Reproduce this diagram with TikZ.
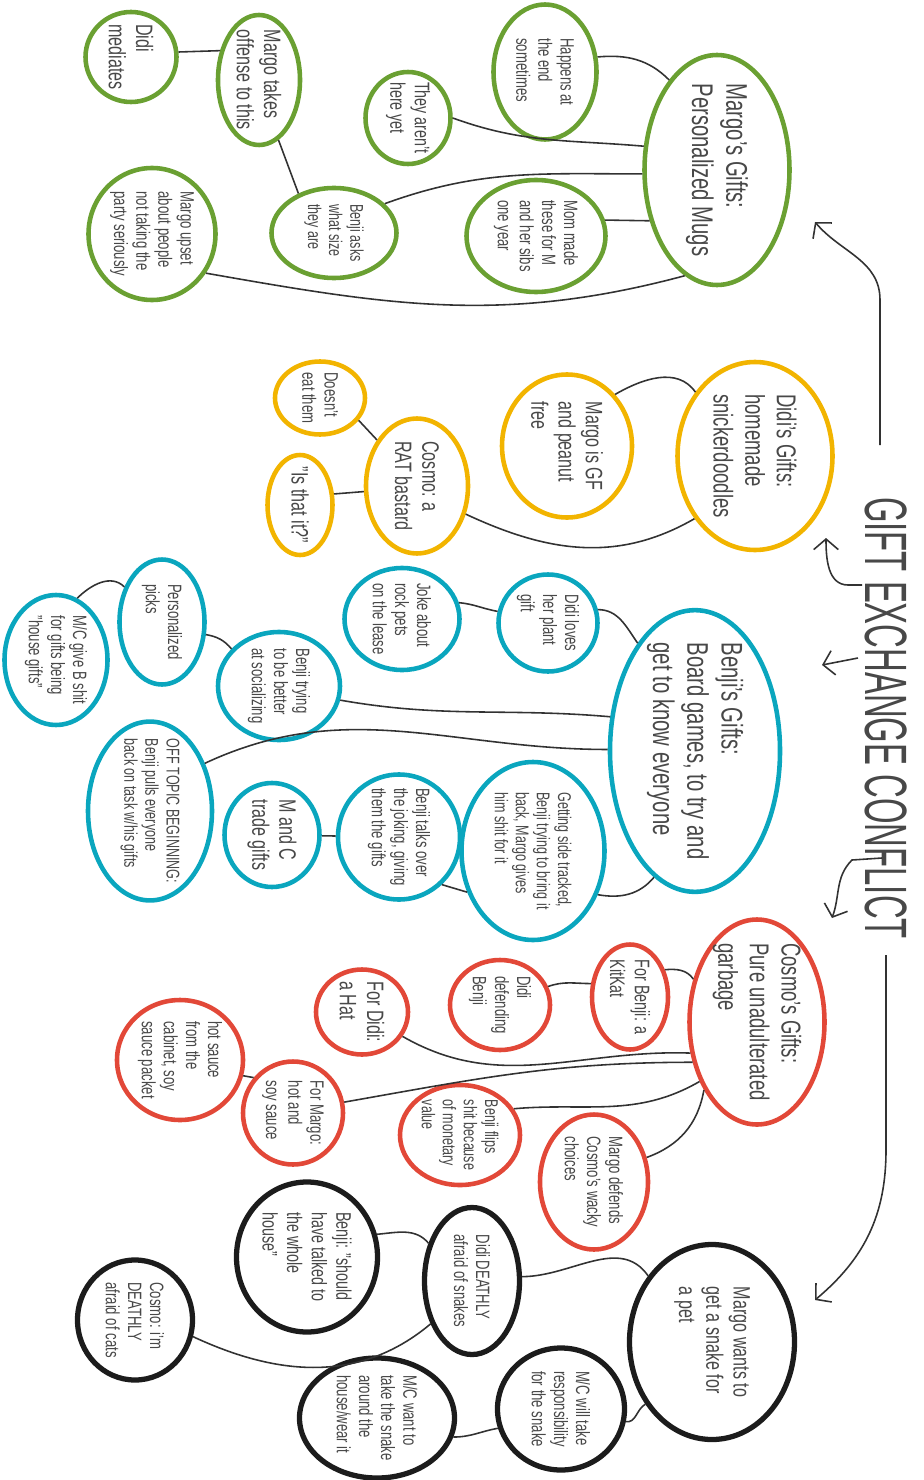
\documentclass[tikz,border=0pt]{standalone}
\usepackage{fontspec}
\setmainfont{Liberation Sans}[FakeStretch=0.68]
\newfontfamily\ttlfont{Liberation Sans}[FakeStretch=0.55]
\usetikzlibrary{shapes.geometric,arrows.meta}
\definecolor{cGreen}{RGB}{106,160,50}
\definecolor{cYellow}{RGB}{242,180,0}
\definecolor{cBlue}{RGB}{10,166,190}
\definecolor{cRed}{RGB}{226,72,56}
\definecolor{cBlack}{RGB}{28,28,28}
\definecolor{cInk}{RGB}{72,72,72}
\definecolor{cLine}{RGB}{50,50,50}
\tikzset{
  bub/.style={ellipse,draw,line width=2.6pt,inner xsep=-5pt,inner ysep=-2pt,align=left,text=cInk},
  sz/.style 2 args={minimum width=#1*0.02cm,minimum height=#2*0.02cm},
  gv/.style={draw=cGreen},
  yv/.style={draw=cYellow},
  bv/.style={draw=cBlue},
  rv/.style={draw=cRed},
  kv/.style={draw=cBlack,line width=3pt},
  fbig/.style={font=\fontsize{17}{19.5}\selectfont},
  fbg2/.style={font=\fontsize{15.5}{18}\selectfont},
  fmid/.style={font=\fontsize{13.5}{15.5}\selectfont},
  fmd2/.style={font=\fontsize{12}{14}\selectfont},
  fsml/.style={font=\fontsize{11}{12.6}\selectfont},
  ftny/.style={font=\fontsize{10.5}{12}\selectfont},
  lnk/.style={draw=cLine,line width=0.9pt},
  arr/.style={draw=cLine,line width=0.9pt,-{Straight Barb[length=6pt,width=14pt]}},
  ttl/.style={text=cInk,font=\ttlfont\fontsize{34}{40}\selectfont}
}

\begin{document}
\begin{tikzpicture}[rotate=-90,transform shape,x=0.02cm,y=0.02cm]
\useasboundingbox (0,0) rectangle (1480,923);
\node[ttl] (ttl) at (718,886) {GIFT EXCHANGE CONFLICT};

\node[bub,gv,fbig,sz={230}{145}] (g0) at (170,717) {Margo's Gifts:\\Personalized Mugs};
\node[bub,gv,fsml,sz={135}{103}] (g1) at (72,545) {Happens at\\the end\\sometimes};
\node[bub,gv,fmd2,sz={92}{85}] (g2) at (118,408) {They aren't\\here yet};
\node[bub,gv,fsml,sz={112}{139}] (g3) at (236,536) {Mom made\\these for M\\and her sibs\\one year};
\node[bub,gv,fmid,sz={90}{91}] (g4) at (57,131) {Didi\\mediates};
\node[bub,gv,fmid,sz={130}{82}] (g5) at (80,259) {Margo takes\\offense to this};
\node[bub,gv,ftny,sz={90}{125}] (g6) at (233,334) {Benji asks\\what size\\they are};
\node[bub,gv,fsml,sz={132}{127}] (g7) at (234,152) {Margo upset\\about people\\not taking the\\party seriously};

\node[bub,yv,fbg2,sz={188}{155}] (y0) at (456,755) {Didi's Gifts:\\homemade\\snickerdoodles};
\node[bub,yv,fmid,sz={143}{130}] (y1) at (446,567) {Margo is GF\\and peanut\\free};
\node[bub,yv,fmid,sz={135}{102}] (y2) at (486,417) {Cosmo: a\\RAT bastard};
\node[bub,yv,fsml,sz={73}{90}] (y3) at (398,320) {Doesn't\\eat them};
\node[bub,yv,fmid,sz={100}{65}] (y4) at (505,300) {"Is that it?"};

\node[bub,bv,fbig,sz={267}{170}] (b0) at (751,695) {Benji's Gifts:\\Board games, to try and\\get to know everyone};
\node[bub,bv,fsml,sz={97}{99}] (b1) at (623,548) {Didi loves\\her plant\\gift};
\node[bub,bv,fsml,sz={102}{115}] (b2) at (619,402) {Joke about\\rock pets\\on the lease};
\node[bub,bv,fsml,sz={125}{85}] (b3) at (622,162) {Personalized\\picks};
\node[bub,bv,fsml,sz={130}{103}] (b4) at (660,56) {M/C give B shit\\for gifts being\\"house gifts"};
\node[bub,bv,fsml,sz={108}{122}] (b5) at (686,279) {Benji trying\\to be better\\at socializing};
\node[bub,bv,ftny,sz={178}{124}] (b6) at (811,150) {OFF TOPIC BEGINNING:\\Benji pulls everyone\\back on task w/his gifts};
\node[bub,bv,fmid,sz={104}{95}] (b7) at (835,272) {M and C\\trade gifts};
\node[bub,bv,fsml,sz={125}{122}] (b8) at (837,399) {Benji talks over\\the joking, giving\\them the gifts};
\node[bub,bv,ftny,sz={178}{143}] (b9) at (851,533) {Getting side tracked,\\Benji trying to bring it\\back, Margo gives\\him shit for it};

\node[bub,rv,fbg2,sz={205}{135}] (r0) at (1022,757) {Cosmo's Gifts:\\Pure unadulterated\\garbage};
\node[bub,rv,fmd2,sz={105}{76}] (r1) at (997,630) {For Benji: a\\KitKat};
\node[bub,rv,fsml,sz={90}{100}] (r2) at (1005,500) {Didi\\defending\\Benji};
\node[bub,rv,fmid,sz={85}{92}] (r3) at (1012,362) {For Didi:\\a Hat};
\node[bub,rv,fsml,sz={120}{126}] (r4) at (1060,180) {hot sauce\\from the\\cabinet, soy\\sauce packet};
\node[bub,rv,fsml,sz={103}{100}] (r5) at (1113,293) {For Margo:\\hot and\\soy sauce};
\node[bub,rv,ftny,sz={100}{120}] (r6) at (1135,460) {Benji flips\\shit because\\of monetary\\value};
\node[bub,rv,fsml,sz={135}{108}] (r7) at (1182,594) {Margo defends\\Cosmo's wacky\\choices};

\node[bub,kv,fmid,sz={195}{165}] (k0) at (1342,712) {Margo wants to\\get a snake for\\a pet};
\node[bub,kv,fsml,sz={147}{95}] (k1) at (1281,472) {Didi DEATHLY\\afraid of snakes};
\node[bub,kv,fmd2,sz={150}{141}] (k2) at (1257,307) {Benji: "should\\have talked to\\the whole\\house"};
\node[bub,kv,fsml,sz={120}{115}] (k3) at (1320,135) {Cosmo: i'm\\DEATHLY\\afraid of cats};
\node[bub,kv,fsml,sz={122}{127}] (k4) at (1409,561) {M/C will take\\responsibility\\for the snake};
\node[bub,kv,fsml,sz={120}{155}] (k5) at (1418,377) {M/C want to\\take the snake\\around the\\house/wear it};

\draw[lnk] (g1.106) to[out=95,in=225] (g0.208);
\draw[lnk] (g2.90) to[out=70,in=265] (g0.252);
\draw[lnk] (g6.120) to[out=110,in=270] (g0.273);
\draw[lnk] (g3.103) -- (g0.307);
\draw[lnk] (g7.54) to[out=80,in=285] (g0.343);
\draw[lnk] (g4.96) -- (g5.233);
\draw[lnk] (g5.18) -- (g6.222);

\draw[lnk] (y1.137) to[out=120,in=215] (y0.223);
\draw[lnk] (y2.60) to[out=65,in=300] (y0.316);
\draw[lnk] (y3.60) -- (y2.221);
\draw[lnk] (y4.108) -- (y2.276);

\draw[lnk] (b1.105) to[out=90,in=215] (b0.208);
\draw[lnk] (b2.106) to[out=85,in=260] (b1.257);
\draw[lnk] (b3.227) to[out=225,in=135] (b4.161);
\draw[lnk] (b3.74) to[out=80,in=220] (b5.232);
\draw[lnk] (b5.77) to[out=80,in=265] (b0.248);
\draw[lnk] (b6.131) to[out=115,in=270] (b0.269);
\draw[lnk] (b7) -- (b8);
\draw[lnk] (b8.42) -- (b9.302);
\draw[lnk] (b9.56) to[out=80,in=320] (b0.342);

\draw[lnk] (r1.128) to[out=95,in=215] (r0.236);
\draw[lnk] (r2.111) to[out=110,in=270] (r1.251);
\draw[lnk] (r3.59) to[out=60,in=268] (r0.295);
\draw[lnk] (r5.102) to[out=100,in=270] (r0.302);
\draw[lnk] (r6.116) to[out=95,in=300] (r0.316);
\draw[lnk] (r7.115) to[out=110,in=350] (r0.322);
\draw[lnk] (r4.76) -- (r5.228);

\draw[lnk] (k1.95) to[out=90,in=215] (k0.224);
\draw[lnk] (k2.108) to[out=95,in=220] (k1.229);
\draw[lnk] (k3.74) to[out=65,in=310] (k1.316);
\draw[lnk] (k5.76) to[out=90,in=280] (k4.287);
\draw[lnk] (k4.79) to[out=80,in=300] (k0.313);

\coordinate (ga0) at (445,880);
\coordinate (ga1) at (222,815);
\coordinate (ya0) at (585,862);
\coordinate (ya1) at (538,826);
\coordinate (ba0) at (658,858);
\coordinate (ba1) at (665,822);
\coordinate (ra0) at (858,882);
\coordinate (ra1) at (918,832);
\coordinate (ka0) at (955,886);
\coordinate (ka1) at (1300,815);
\draw[arr] (ga0) -- (300,880) to[out=180,in=40] (ga1);
\draw[arr] (ya0) -- (585,848) to[out=270,in=0] (ya1);
\draw[arr] (ba0) -- (ba1);
\draw[arr] (ra0) -- (860,852) to[out=315,in=160] (ra1);
\draw[arr] (ka0) -- (1150,886) to[out=0,in=130] (ka1);
\end{tikzpicture}
\end{document}
